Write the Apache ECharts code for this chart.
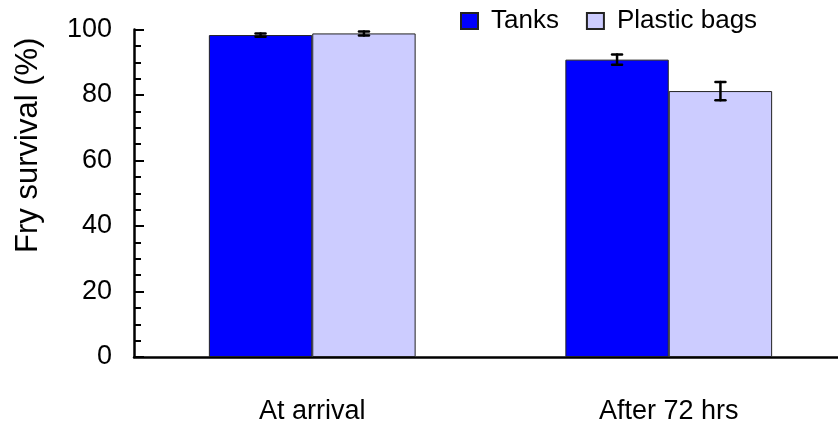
<!DOCTYPE html>
<html>
<head>
<meta charset="utf-8">
<script src="https://cdn.jsdelivr.net/npm/echarts@6/dist/echarts.min.js"></script>
<style>html,body{margin:0;padding:0;background:#fff}#c{width:838px;height:432px}</style>
</head>
<body>
<div id="c"></div>
<script>
var categories = ['At arrival', 'After 72 hrs'];
var seriesNames = ['Tanks', 'Plastic bags'];
var tanks = [98.3, 90.8];
var tanksErr = [0.5, 1.6];
var bags = [98.8, 81.2];
var bagsErr = [0.6, 2.8];
var yTicks = [0, 20, 40, 60, 80, 100];

var chart = echarts.init(document.getElementById('c'));
var font = 'Liberation Sans, Arial, sans-serif';

function errSeries(vals, errs, idx) {
  return {
    type: 'custom',
    z: 10,
    data: vals.map(function (v, i) { return [i, v, errs[i]]; }),
    renderItem: function (params, api) {
      var ci = api.value(0), v = api.value(1), e = api.value(2);
      var band = api.size([1, 0])[0];
      var barW = band * 0.29;
      var base = api.coord([ci, v]);
      var x = base[0] + (idx === 0 ? -barW / 2 : barW / 2);
      var top = api.coord([ci, v + e])[1];
      var bot = api.coord([ci, v - e])[1];
      var cw = 5;
      var st = { stroke: '#000', lineWidth: 2.5, lineCap: 'round' };
      return {
        type: 'group',
        children: [
          { type: 'line', shape: { x1: x, y1: top, x2: x, y2: bot }, style: st },
          { type: 'line', shape: { x1: x - cw, y1: top, x2: x + cw, y2: top }, style: st },
          { type: 'line', shape: { x1: x - cw, y1: bot, x2: x + cw, y2: bot }, style: st }
        ]
      };
    }
  };
}

chart.setOption({
  animation: false,
  textStyle: { fontFamily: font },
  legend: {
    data: seriesNames,
    left: 455,
    top: 3,
    itemWidth: 17,
    itemHeight: 16,
    itemGap: 27,
    icon: 'rect',
    textStyle: { fontSize: 26, color: '#000', fontFamily: font, padding: [0, 0, 0, 8] }
  },
  grid: { left: 134, right: -9, top: 29.5, bottom: 75, containLabel: false, outerBoundsMode: 'none' },
  xAxis: {
    type: 'category',
    data: categories,
    axisLine: { lineStyle: { color: '#000', width: 2.5 } },
    axisTick: { inside: true, length: 10, lineStyle: { color: '#000', width: 2 } },
    axisLabel: { fontSize: 27, color: '#000', margin: 41, fontFamily: font }
  },
  yAxis: {
    type: 'value',
    min: yTicks[0],
    max: yTicks[yTicks.length - 1],
    interval: 20,
    name: 'Fry survival (%)',
    nameLocation: 'middle',
    nameGap: 90,
    nameTextStyle: { fontSize: 31, color: '#000', fontFamily: font, padding: [0, 0, 0, 96] },
    axisLine: { show: true, lineStyle: { color: '#000', width: 2.5 } },
    axisTick: { show: true, inside: true, length: 10, lineStyle: { color: '#000', width: 2 } },
    minorTick: { show: true, splitNumber: 4, length: 7, lineStyle: { color: '#000', width: 2 } },
    splitLine: { show: false },
    axisLabel: { fontSize: 27, color: '#000', margin: 22, fontFamily: font }
  },
  series: [
    {
      name: seriesNames[0], type: 'bar', data: tanks,
      barWidth: '29%', barGap: '0%',
      itemStyle: { color: '#0000ff', borderColor: '#222', borderWidth: 1 }
    },
    {
      name: seriesNames[1], type: 'bar', data: bags,
      barWidth: '29%',
      itemStyle: { color: '#ccccff', borderColor: '#222', borderWidth: 1 }
    },
    errSeries(tanks, tanksErr, 0),
    errSeries(bags, bagsErr, 1)
  ]
});
</script>
</body>
</html>
